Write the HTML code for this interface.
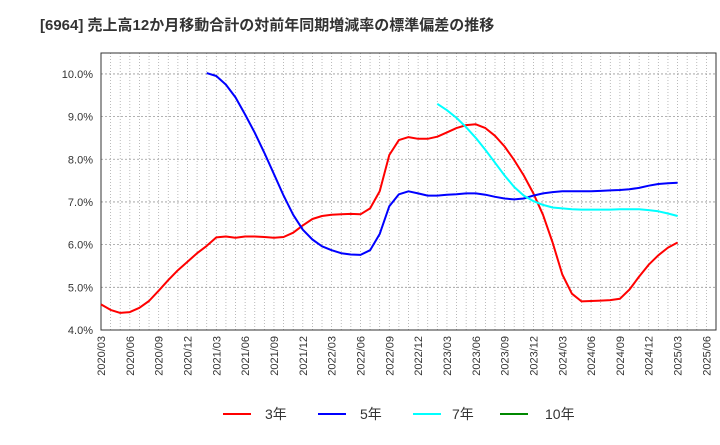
<!DOCTYPE html>
<html><head><meta charset="utf-8"><style>
body{margin:0;background:#fff;}
svg text{font-family:"Liberation Sans","Noto Sans CJK JP",sans-serif;}
</style></head><body>
<svg id="chart" width="720" height="440" xmlns="http://www.w3.org/2000/svg">
<text x="40" y="30" font-size="15" font-weight="bold" fill="#333">[6964]  売上高12か月移動合計の対前年同期増減率の標準偏差の推移</text>
<g id="grid"></g><g id="axes"></g><g id="series"></g>
<g>
<g><line x1="223" y1="414" x2="251" y2="414" stroke="#f00" stroke-width="2"/><text x="265" y="419" font-size="14" fill="#333">3年</text></g>
<g><line x1="318" y1="414" x2="346" y2="414" stroke="#00f" stroke-width="2"/><text x="360" y="419" font-size="14" fill="#333">5年</text></g>
<g><line x1="413" y1="414" x2="441" y2="414" stroke="#0ff" stroke-width="2"/><text x="452" y="419" font-size="14" fill="#333">7年</text></g>
<g><line x1="500" y1="414" x2="528" y2="414" stroke="#080" stroke-width="2"/><text x="545" y="419" font-size="14" fill="#333">10年</text></g>
</g>
</svg>
<script>
const yTicks=[4,5,6,7,8,9,10];
const xLabels=["2020/03","2020/06","2020/09","2020/12","2021/03","2021/06","2021/09","2021/12","2022/03","2022/06","2022/09","2022/12","2023/03","2023/06","2023/09","2023/12","2024/03","2024/06","2024/09","2024/12","2025/03","2025/06"];
const s3Start=0;
const s3=[4.6,4.47,4.4,4.42,4.52,4.68,4.92,5.17,5.4,5.6,5.8,5.97,6.17,6.19,6.16,6.19,6.19,6.18,6.16,6.18,6.28,6.45,6.6,6.67,6.7,6.71,6.72,6.71,6.85,7.25,8.1,8.45,8.52,8.48,8.48,8.53,8.63,8.73,8.8,8.82,8.73,8.55,8.3,7.98,7.62,7.2,6.7,6.05,5.3,4.85,4.67,4.68,4.69,4.7,4.73,4.95,5.25,5.53,5.75,5.93,6.05];
const s5Start=11;
const s5=[10.02,9.95,9.75,9.45,9.05,8.62,8.15,7.65,7.15,6.7,6.35,6.12,5.96,5.87,5.8,5.77,5.76,5.87,6.25,6.9,7.18,7.25,7.2,7.15,7.15,7.17,7.18,7.2,7.2,7.17,7.12,7.08,7.06,7.08,7.15,7.2,7.23,7.25,7.25,7.25,7.25,7.26,7.27,7.28,7.3,7.33,7.38,7.42,7.44,7.45];
const s7Start=35;
const s7=[9.3,9.15,8.97,8.75,8.5,8.22,7.92,7.62,7.35,7.15,7.02,6.93,6.87,6.85,6.83,6.82,6.82,6.82,6.82,6.83,6.83,6.83,6.81,6.78,6.73,6.67];
const s10Start=0;
const s10=[];
const L=101,R=716,T=53,B=330,yMin=4,yMax=10.49,nMonths=64;
const NS="http://www.w3.org/2000/svg";
function xS(i){return L+i*(R-L)/nMonths;}
function yS(v){return B-(v-yMin)*(B-T)/(yMax-yMin);}
function mk(tag,attrs,parent){const e=document.createElementNS(NS,tag);for(const k in attrs)e.setAttribute(k,attrs[k]);parent.appendChild(e);return e;}
const grid=document.getElementById('grid'),axes=document.getElementById('axes'),ser=document.getElementById('series');
mk('rect',{x:L,y:T,width:R-L,height:B-T,fill:'#fff'},grid);
for(let m=1;m<nMonths;m++){const l=mk('line',{x1:xS(m),x2:xS(m),y1:T,y2:B,stroke:'#aaa','stroke-width':0.8,'stroke-dasharray':'1,2'},grid);

}
yTicks.forEach(v=>{const l=mk('line',{x1:L,x2:R,y1:yS(v),y2:yS(v),stroke:'#999','stroke-width':0.8,'stroke-dasharray':'2,2'},grid);


const t=mk('text',{x:L-8,y:yS(v)+4,'font-size':11,fill:'#333','text-anchor':'end'},axes);t.textContent=v.toFixed(1)+'%';

});
xLabels.forEach((s,k)=>{const x=xS(k*3)+4;const t=mk('text',{x:x,y:B+6,'font-size':11,fill:'#333','text-anchor':'end',transform:`rotate(-90 ${x} ${B+6})`},axes);t.textContent=s;

});
const fr=mk('rect',{x:L,y:T,width:R-L,height:B-T,fill:'none',stroke:'#333','stroke-width':1},axes);


function line(data,start,color,name){if(!data.length)return;const p=data.map((v,i)=>xS(start+i).toFixed(1)+','+yS(v).toFixed(1)).join(' ');
const e=mk('polyline',{points:p,fill:'none',stroke:color,'stroke-width':2,'stroke-linejoin':'round'},ser);

}
line(s3,s3Start,'#f00','series-3y');
line(s5,s5Start,'#00f','series-5y');
line(s7,s7Start,'#0ff','series-7y');
line(s10,s10Start,'#080','series-10y');
</script>
</body></html>
